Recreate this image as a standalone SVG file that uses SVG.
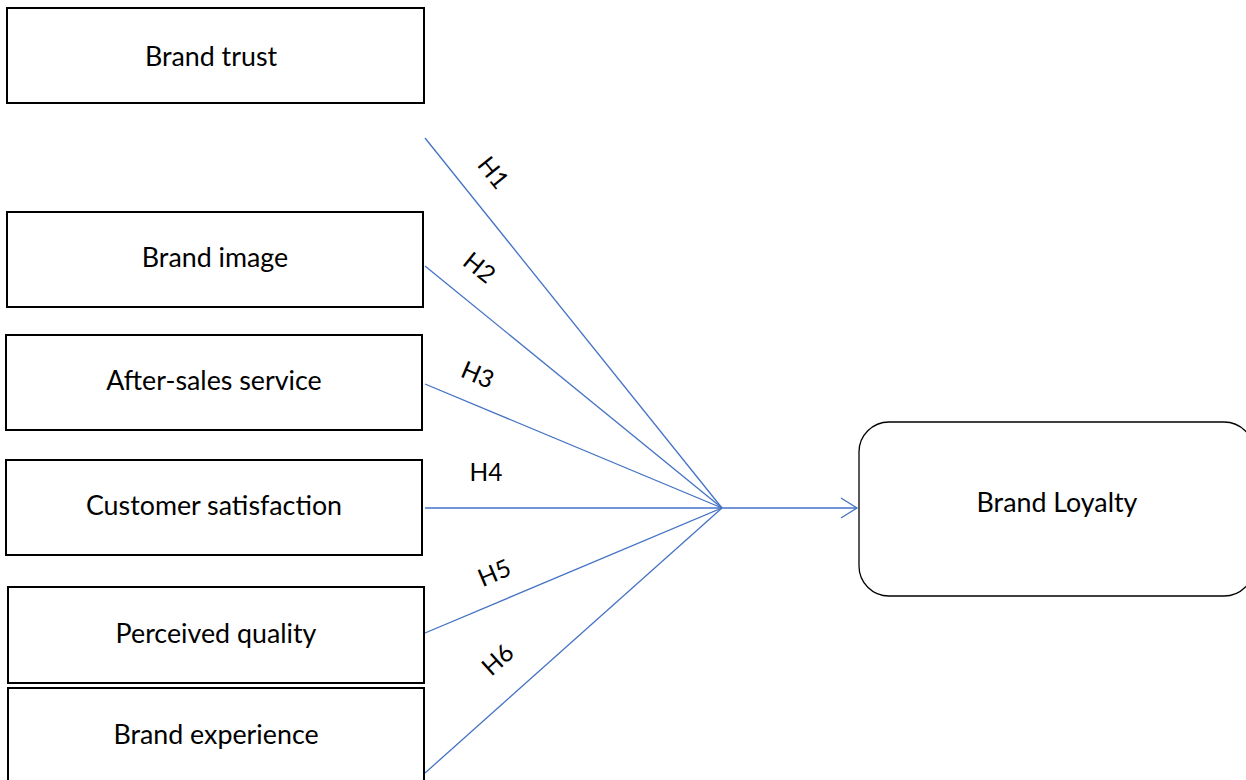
<svg xmlns="http://www.w3.org/2000/svg" width="1246" height="780" viewBox="0 0 1246 780">
<style>
.box{fill:#fff;stroke:#000;stroke-width:2}
.lbl{font-family:Lato,"Liberation Sans",sans-serif;font-size:26.8px;fill:#000;text-anchor:middle;dominant-baseline:central}
.h{font-family:Lato,"Liberation Sans",sans-serif;font-size:24.5px;fill:#000;text-anchor:middle;dominant-baseline:central}
.ln{stroke:#4472C4;stroke-width:1.3;fill:none}
</style>
<rect width="1246" height="780" fill="#fff"/>
<g id="connectors">
<line class="ln" x1="425" y1="138" x2="722" y2="508"/>
<line class="ln" x1="425" y1="266" x2="722" y2="508"/>
<line class="ln" x1="425" y1="384" x2="722" y2="508"/>
<line class="ln" x1="425" y1="508" x2="722" y2="508"/>
<line class="ln" x1="425" y1="633" x2="722" y2="508"/>
<line class="ln" x1="425" y1="773" x2="722" y2="508"/>
<line class="ln" x1="722" y1="508" x2="857" y2="508"/>
<polyline class="ln" points="841,498 857,508 841,518"/>
<text class="h" transform="translate(494,172) rotate(51)">H1</text>
<text class="h" transform="translate(480,267) rotate(39)">H2</text>
<text class="h" transform="translate(478,374) rotate(23)">H3</text>
<text class="h" x="486" y="471">H4</text>
<text class="h" transform="translate(494,572) rotate(-23)">H5</text>
<text class="h" transform="translate(497,659) rotate(-42)">H6</text>
</g>
<g id="brand-trust"><rect class="box" x="7" y="8" width="417" height="95"/><text class="lbl" x="211" y="56">Brand trust</text></g>
<g id="brand-image"><rect class="box" x="7" y="212" width="416" height="95"/><text class="lbl" x="215" y="257">Brand image</text></g>
<g id="after-sales"><rect class="box" x="6" y="335" width="416" height="95"/><text class="lbl" x="214" y="380">After-sales service</text></g>
<g id="customer-satisfaction"><rect class="box" x="6" y="460" width="416" height="95"/><text class="lbl" x="214" y="505">Customer satisfaction</text></g>
<g id="perceived-quality"><rect class="box" x="8" y="587" width="416" height="96"/><text class="lbl" x="216" y="633">Perceived quality</text></g>
<g id="brand-experience"><rect class="box" x="8" y="688" width="416" height="100"/><text class="lbl" x="216" y="734">Brand experience</text></g>
<g id="brand-loyalty"><rect x="859" y="422" width="395" height="174" rx="30" ry="30" fill="#fff" stroke="#000" stroke-width="1.3"/><text class="lbl" x="1057" y="502">Brand Loyalty</text></g>
</svg>
